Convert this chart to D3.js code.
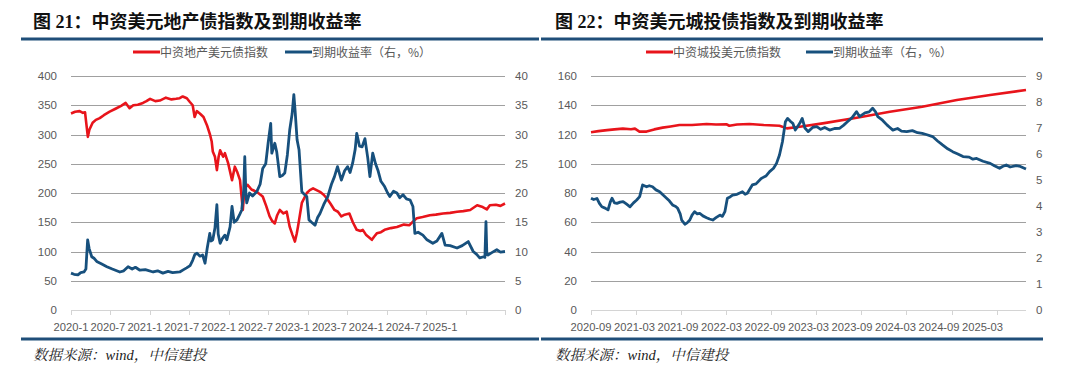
<!DOCTYPE html>
<html><head><meta charset="utf-8">
<script src="https://cdn.jsdelivr.net/npm/d3@7"></script>
<style>body{margin:0;background:#fff}svg{display:block}</style>
</head><body>
<svg id="c" width="1080" height="375"></svg>
<script>
// ---------- Chart 1 data: 中资地产美元债指数 & 到期收益率 ----------
const c1Title = "图 21：中资美元地产债指数及到期收益率";
const c1Legend = ["中资地产美元债指数", "到期收益率（右，%）"];
const c1XLabels = ["2020-1","2020-7","2021-1","2021-7","2022-1","2022-7","2023-1","2023-7","2024-1","2024-7","2025-1"];
const c1TickDates = ["2020-01-01","2020-07-01","2021-01-01","2021-07-01","2022-01-01","2022-07-01","2023-01-01","2023-07-01","2024-01-01","2024-07-01","2025-01-01","2025-07-01"];
const c1LeftTicks = [0,50,100,150,200,250,300,350,400];
const c1RightTicks = [0,5,10,15,20,25,30,35,40];
const c1IndexDates = ["2020-01-01","2020-01-20","2020-02-10","2020-02-25","2020-03-06","2020-03-12","2020-03-19","2020-03-26","2020-04-10","2020-04-25","2020-05-13","2020-06-01","2020-06-28","2020-07-25","2020-08-20","2020-09-10","2020-09-28","2020-10-15","2020-11-05","2020-11-29","2020-12-15","2021-01-01","2021-01-25","2021-02-15","2021-03-15","2021-04-10","2021-05-01","2021-05-18","2021-06-01","2021-06-20","2021-07-03","2021-07-17","2021-07-26","2021-08-05","2021-08-19","2021-09-05","2021-09-21","2021-10-05","2021-10-13","2021-10-18","2021-10-28","2021-11-06","2021-11-14","2021-11-21","2021-12-05","2021-12-13","2021-12-28","2022-01-15","2022-01-28","2022-02-08","2022-02-21","2022-03-06","2022-03-10","2022-03-15","2022-03-28","2022-04-15","2022-05-09","2022-06-06","2022-06-22","2022-07-08","2022-07-20","2022-08-01","2022-08-12","2022-08-24","2022-09-10","2022-09-25","2022-10-09","2022-10-22","2022-11-02","2022-11-10","2022-11-16","2022-12-04","2022-12-27","2023-01-10","2023-01-25","2023-02-10","2023-02-26","2023-03-15","2023-03-29","2023-04-15","2023-05-04","2023-05-20","2023-06-05","2023-06-20","2023-07-12","2023-07-28","2023-08-15","2023-09-01","2023-09-12","2023-09-28","2023-10-24","2023-11-05","2023-11-16","2023-12-05","2023-12-22","2024-01-20","2024-02-17","2024-03-20","2024-04-15","2024-05-01","2024-05-19","2024-06-15","2024-07-18","2024-08-15","2024-09-17","2024-10-20","2024-11-21","2024-12-20","2025-01-21","2025-02-22","2025-03-20","2025-04-08","2025-04-22","2025-05-20","2025-06-10","2025-07-01"];
const c1Index = [336,339,340,337,338,318,296,308,320,325,328,333,339,344,349,354,345,350,351,354,357,361,357,358,363,360,361,362,365,362,356,350,330,340,336,330,316,300,288,271,262,239,262,273,262,268,251,222,245,236,222,171,190,208,214,206,202,194,178,160,152,148,162,171,165,168,142,128,117,130,142,183,200,205,208,205,202,197,191,182,171,168,160,163,165,150,137,135,137,128,120,126,131,133,137,140,142,146,145,151,157,159,162,163,165,166,168,169,171,179,176,172,179,180,178,182];
const c1YtmDates = ["2020-01-01","2020-01-15","2020-02-02","2020-02-15","2020-03-01","2020-03-10","2020-03-18","2020-03-25","2020-04-06","2020-04-18","2020-04-29","2020-05-20","2020-06-15","2020-07-10","2020-08-14","2020-09-01","2020-09-21","2020-10-10","2020-10-25","2020-11-15","2020-12-10","2021-01-15","2021-02-05","2021-03-01","2021-03-25","2021-04-15","2021-05-18","2021-06-05","2021-06-19","2021-07-05","2021-07-17","2021-07-27","2021-08-06","2021-08-20","2021-09-01","2021-09-12","2021-09-22","2021-10-04","2021-10-10","2021-10-18","2021-10-28","2021-11-06","2021-11-12","2021-11-21","2021-12-01","2021-12-13","2021-12-22","2022-01-06","2022-01-15","2022-01-25","2022-02-07","2022-02-18","2022-03-01","2022-03-10","2022-03-15","2022-03-20","2022-03-24","2022-04-06","2022-04-20","2022-05-09","2022-05-25","2022-06-06","2022-06-20","2022-07-01","2022-07-13","2022-07-18","2022-08-01","2022-08-10","2022-08-24","2022-09-05","2022-09-16","2022-09-28","2022-10-09","2022-10-20","2022-10-28","2022-11-03","2022-11-12","2022-11-21","2022-12-04","2022-12-15","2022-12-27","2023-01-06","2023-01-18","2023-02-03","2023-02-15","2023-02-26","2023-03-15","2023-04-03","2023-04-20","2023-05-04","2023-05-18","2023-06-05","2023-06-20","2023-07-04","2023-07-15","2023-07-27","2023-08-08","2023-08-15","2023-08-28","2023-09-09","2023-09-22","2023-10-05","2023-10-15","2023-10-28","2023-11-10","2023-11-21","2023-12-05","2023-12-22","2024-01-05","2024-01-15","2024-02-01","2024-02-17","2024-03-01","2024-03-16","2024-04-01","2024-04-18","2024-05-01","2024-05-10","2024-05-25","2024-06-16","2024-07-05","2024-08-01","2024-08-20","2024-09-12","2024-09-27","2024-10-20","2024-11-21","2024-12-15","2025-01-12","2025-02-04","2025-02-20","2025-03-06","2025-03-24","2025-03-30","2025-04-04","2025-04-08","2025-04-13","2025-05-01","2025-05-24","2025-06-10","2025-07-01"];
const c1Ytm = [6.3,6.1,6.0,6.4,6.5,7.0,12.0,10.5,9.1,8.8,8.3,7.9,7.4,7.0,6.5,6.7,7.4,7.0,7.3,6.8,6.9,6.5,6.7,6.3,6.6,6.4,6.5,6.9,7.2,7.6,8.5,9.5,9.7,9.2,9.4,8.0,10.5,13.1,11.8,12.0,14.0,18.0,13.0,11.4,12.2,12.8,12.0,14.2,17.7,15.0,15.4,16.2,17.1,20.5,26.2,20.0,18.3,20.0,19.5,20.2,21.5,24.2,25.0,28.5,31.9,26.8,28.5,27.0,22.8,23.0,23.4,26.5,30.8,33.5,36.8,34.0,29.1,27.4,20.2,19.8,19.4,15.4,15.0,14.5,15.8,16.5,18.0,19.4,21.5,22.8,24.5,22.2,23.8,24.5,23.5,25.1,27.5,30.2,28.0,27.9,29.3,26.0,22.8,26.8,25.0,23.9,22.0,21.1,20.0,19.4,20.3,20.0,19.2,19.7,19.0,18.8,17.7,13.1,13.3,12.8,12.0,11.4,11.8,13.1,11.1,11.0,10.6,11.0,11.7,10.0,9.5,8.9,9.1,9.0,15.1,9.5,9.4,9.8,10.3,9.9,10.0];

// ---------- Chart 2 data: 中资城投美元债指数 & 到期收益率 ----------
const c2Title = "图 22：中资美元城投债指数及到期收益率";
const c2Legend = ["中资城投美元债指数", "到期收益率（右，%）"];
const c2XLabels = ["2020-09","2021-03","2021-09","2022-03","2022-09","2023-03","2023-09","2024-03","2024-09","2025-03"];
const c2TickDates = ["2020-09-01","2021-03-01","2021-09-01","2022-03-01","2022-09-01","2023-03-01","2023-09-01","2024-03-01","2024-09-01","2025-03-01"];
const c2LeftTicks = [0,20,40,60,80,100,120,140,160];
const c2RightTicks = [0,1,2,3,4,5,6,7,8,9];
const c2IndexDates = ["2020-09-01","2020-10-01","2020-11-05","2020-12-05","2021-01-08","2021-02-10","2021-02-26","2021-03-16","2021-04-14","2021-05-15","2021-06-18","2021-07-20","2021-08-25","2021-10-15","2021-12-13","2022-01-20","2022-03-03","2022-03-15","2022-04-15","2022-06-04","2022-08-01","2022-10-04","2022-11-03","2022-12-25","2023-03-28","2023-08-13","2023-12-25","2024-05-04","2024-09-21","2025-02-03","2025-06-28"];
const c2Index = [121.5,122.3,123,123.5,124,123.6,124,122,122,123.5,124.7,125.5,126.5,126.5,127.2,126.8,127,126,126.8,127.2,126.5,126,124.2,125.3,127.6,131.5,135.6,139,143.6,147,150.4];
const c2YtmDates = ["2020-09-01","2020-09-12","2020-09-25","2020-10-05","2020-10-15","2020-10-28","2020-11-09","2020-11-18","2020-11-25","2020-12-05","2020-12-15","2020-12-28","2021-01-09","2021-01-22","2021-02-06","2021-02-20","2021-03-05","2021-03-17","2021-03-29","2021-04-14","2021-04-25","2021-05-08","2021-05-22","2021-06-06","2021-06-20","2021-07-04","2021-07-15","2021-07-28","2021-08-10","2021-08-18","2021-08-28","2021-09-03","2021-09-16","2021-09-25","2021-10-06","2021-10-15","2021-10-25","2021-11-05","2021-11-15","2021-11-28","2021-12-13","2021-12-25","2022-01-07","2022-01-20","2022-02-05","2022-02-15","2022-02-25","2022-03-07","2022-03-18","2022-03-28","2022-04-15","2022-05-07","2022-05-18","2022-05-27","2022-06-16","2022-07-01","2022-07-22","2022-08-10","2022-08-25","2022-09-10","2022-09-22","2022-10-04","2022-10-16","2022-10-28","2022-11-06","2022-11-18","2022-11-27","2022-12-07","2022-12-16","2022-12-25","2023-01-04","2023-01-15","2023-01-28","2023-02-15","2023-03-04","2023-03-20","2023-04-05","2023-04-25","2023-05-15","2023-06-04","2023-06-20","2023-07-06","2023-07-25","2023-08-12","2023-08-24","2023-09-15","2023-10-02","2023-10-16","2023-10-28","2023-11-06","2023-11-25","2023-12-13","2023-12-25","2024-01-06","2024-01-25","2024-02-10","2024-03-02","2024-03-25","2024-04-15","2024-05-04","2024-05-20","2024-06-15","2024-07-05","2024-07-25","2024-08-15","2024-09-04","2024-09-25","2024-10-16","2024-11-10","2024-11-25","2024-12-10","2025-01-05","2025-02-03","2025-02-20","2025-03-13","2025-03-25","2025-04-09","2025-04-25","2025-05-19","2025-06-05","2025-06-28"];
const c2Ytm = [4.30,4.25,4.29,4.10,3.97,3.92,3.85,4.15,4.30,4.12,4.10,4.15,4.17,4.08,3.97,4.12,4.23,4.36,4.81,4.74,4.78,4.74,4.62,4.55,4.42,4.30,4.20,4.04,3.98,3.91,3.70,3.46,3.30,3.35,3.46,3.65,3.78,3.70,3.72,3.62,3.55,3.50,3.46,3.55,3.65,3.60,3.78,4.30,4.35,4.42,4.45,4.55,4.45,4.49,4.81,4.85,5.06,5.15,5.32,5.45,5.64,5.96,6.47,7.24,7.37,7.25,7.18,6.92,7.05,7.18,7.37,7.00,6.86,7.02,7.05,6.95,7.02,6.92,6.98,6.99,7.10,7.24,7.40,7.63,7.44,7.58,7.62,7.76,7.62,7.44,7.30,7.12,7.02,6.92,6.98,6.88,6.86,6.90,6.82,6.79,6.75,6.67,6.50,6.35,6.20,6.09,6.00,5.90,5.88,5.80,5.83,5.72,5.64,5.55,5.45,5.52,5.58,5.50,5.55,5.52,5.42];

const source = "数据来源：wind，中信建投";

// ---------- styles ----------
const RED = "#e8141b", BLUE = "#17507d", RULE = "#1f4e79";
const CJK = "'Noto Sans CJK SC', sans-serif";
const NUM = "'Liberation Sans', Arial, sans-serif";
const parse = d3.timeParse("%Y-%m-%d");
const svg = d3.select("#c");

function drawChart(cfg) {
  const g = svg.append("g");
  // title
  g.append("text").attr("x", cfg.titleX).attr("y", 28)
    .attr("font-family", "'Liberation Serif', 'Noto Sans CJK SC', serif")
    .attr("font-weight", "bold").attr("font-size", 18).attr("fill", "#111")
    .text(cfg.title);
  // rules
  g.append("line").attr("x1", cfg.ruleX0).attr("x2", cfg.ruleX1).attr("y1", 39).attr("y2", 39)
    .attr("stroke", RULE).attr("stroke-width", 3);
  g.append("line").attr("x1", cfg.ruleX0).attr("x2", cfg.ruleX1).attr("y1", 339).attr("y2", 339)
    .attr("stroke", RULE).attr("stroke-width", 3);
  // source
  g.append("text").attr("x", cfg.titleX).attr("y", 360)
    .attr("font-family", "'Liberation Serif', 'Noto Serif CJK SC', 'Noto Sans CJK SC', serif")
    .attr("font-style", "italic").attr("font-size", 14.5).attr("fill", "#222")
    .text(source);

  const x = d3.scaleTime().domain(cfg.xDomain.map(parse)).range([cfg.x0, cfg.x1]);
  const yL = d3.scaleLinear().domain([0, d3.max(cfg.leftTicks)]).range([310, 76]);
  const yR = d3.scaleLinear().domain([0, d3.max(cfg.rightTicks)]).range([310, 76]);

  // gridlines (left ticks)
  g.append("g").selectAll("line").data(cfg.leftTicks.filter(t => t > 0)).join("line")
    .attr("x1", cfg.x0).attr("x2", cfg.x1)
    .attr("y1", d => Math.round(yL(d)) + 0.5).attr("y2", d => Math.round(yL(d)) + 0.5)
    .attr("stroke", "#a0a0a0").attr("stroke-width", 1);
  // x axis line
  g.append("line").attr("x1", cfg.x0).attr("x2", cfg.x1).attr("y1", 310.5).attr("y2", 310.5)
    .attr("stroke", "#d4d4d4").attr("stroke-width", 1);
  // x tick marks
  const tickDates = cfg.tickDates.map(parse);
  g.append("g").selectAll("line").data(tickDates).join("line")
    .attr("x1", d => Math.round(x(d)) + 0.5).attr("x2", d => Math.round(x(d)) + 0.5)
    .attr("y1", 310).attr("y2", 315).attr("stroke", "#d4d4d4");
  // x labels (Excel packs them slightly tighter than the ticks)
  const lx = d3.scalePoint().domain(cfg.xLabels)
    .range([x(tickDates[0]), x(tickDates[0]) + (cfg.xLabels.length - 1) * cfg.labelStep]);
  g.append("g").selectAll("text").data(cfg.xLabels).join("text")
    .attr("x", d => lx(d)).attr("y", 331).attr("text-anchor", "middle")
    .attr("font-family", NUM).attr("font-size", 11.2).attr("fill", "#595959").text(d => d);
  // left labels
  g.append("g").selectAll("text").data(cfg.leftTicks).join("text")
    .attr("x", cfg.x0 - 14).attr("y", d => yL(d) + 4).attr("text-anchor", "end")
    .attr("font-family", NUM).attr("font-size", 11.5).attr("fill", "#595959").text(d => d);
  // right labels
  g.append("g").selectAll("text").data(cfg.rightTicks).join("text")
    .attr("x", cfg.x1 + 10).attr("y", d => yR(d) + 4).attr("text-anchor", "start")
    .attr("font-family", NUM).attr("font-size", 11.5).attr("fill", "#595959").text(d => d);

  // series
  const idx = cfg.indexDates.map((d, i) => [parse(d), cfg.index[i]]);
  const ytm = cfg.ytmDates.map((d, i) => [parse(d), cfg.ytm[i]]);
  g.append("path").datum(idx)
    .attr("d", d3.line().x(d => x(d[0])).y(d => yL(d[1])))
    .attr("fill", "none").attr("stroke", RED).attr("stroke-width", 2.6).attr("stroke-linejoin", "round");
  g.append("path").datum(ytm)
    .attr("d", d3.line().x(d => x(d[0])).y(d => yR(d[1])))
    .attr("fill", "none").attr("stroke", BLUE).attr("stroke-width", 2.8).attr("stroke-linejoin", "round");

  // legend
  const lg = g.append("g").attr("font-family", CJK).attr("font-size", 12).attr("fill", "#595959");
  [[cfg.legend[0], RED, cfg.leg1X], [cfg.legend[1], BLUE, cfg.leg2X]].forEach(([t, c, lx0]) => {
    lg.append("line").attr("x1", lx0).attr("x2", lx0 + 27).attr("y1", 52).attr("y2", 52)
      .attr("stroke", c).attr("stroke-width", 3);
    lg.append("text").attr("x", lx0 + 27).attr("y", 56.5).text(t);
  });
}

drawChart({
  title: c1Title, legend: c1Legend, titleX: 33, ruleX0: 21, ruleX1: 539,
  x0: 71, x1: 505, xDomain: ["2020-01-01", "2025-07-01"],
  tickDates: c1TickDates, xLabels: c1XLabels, labelStep: 36.9,
  leftTicks: c1LeftTicks, rightTicks: c1RightTicks,
  indexDates: c1IndexDates, index: c1Index, ytmDates: c1YtmDates, ytm: c1Ytm,
  leg1X: 133, leg2X: 285
});
drawChart({
  title: c2Title, legend: c2Legend, titleX: 555, ruleX0: 541, ruleX1: 1043,
  x0: 591, x1: 1026, xDomain: ["2020-09-01", "2025-06-28"],
  tickDates: c2TickDates, xLabels: c2XLabels, labelStep: 43.5,
  leftTicks: c2LeftTicks, rightTicks: c2RightTicks,
  indexDates: c2IndexDates, index: c2Index, ytmDates: c2YtmDates, ytm: c2Ytm,
  leg1X: 646, leg2X: 806
});
</script>
</body></html>
